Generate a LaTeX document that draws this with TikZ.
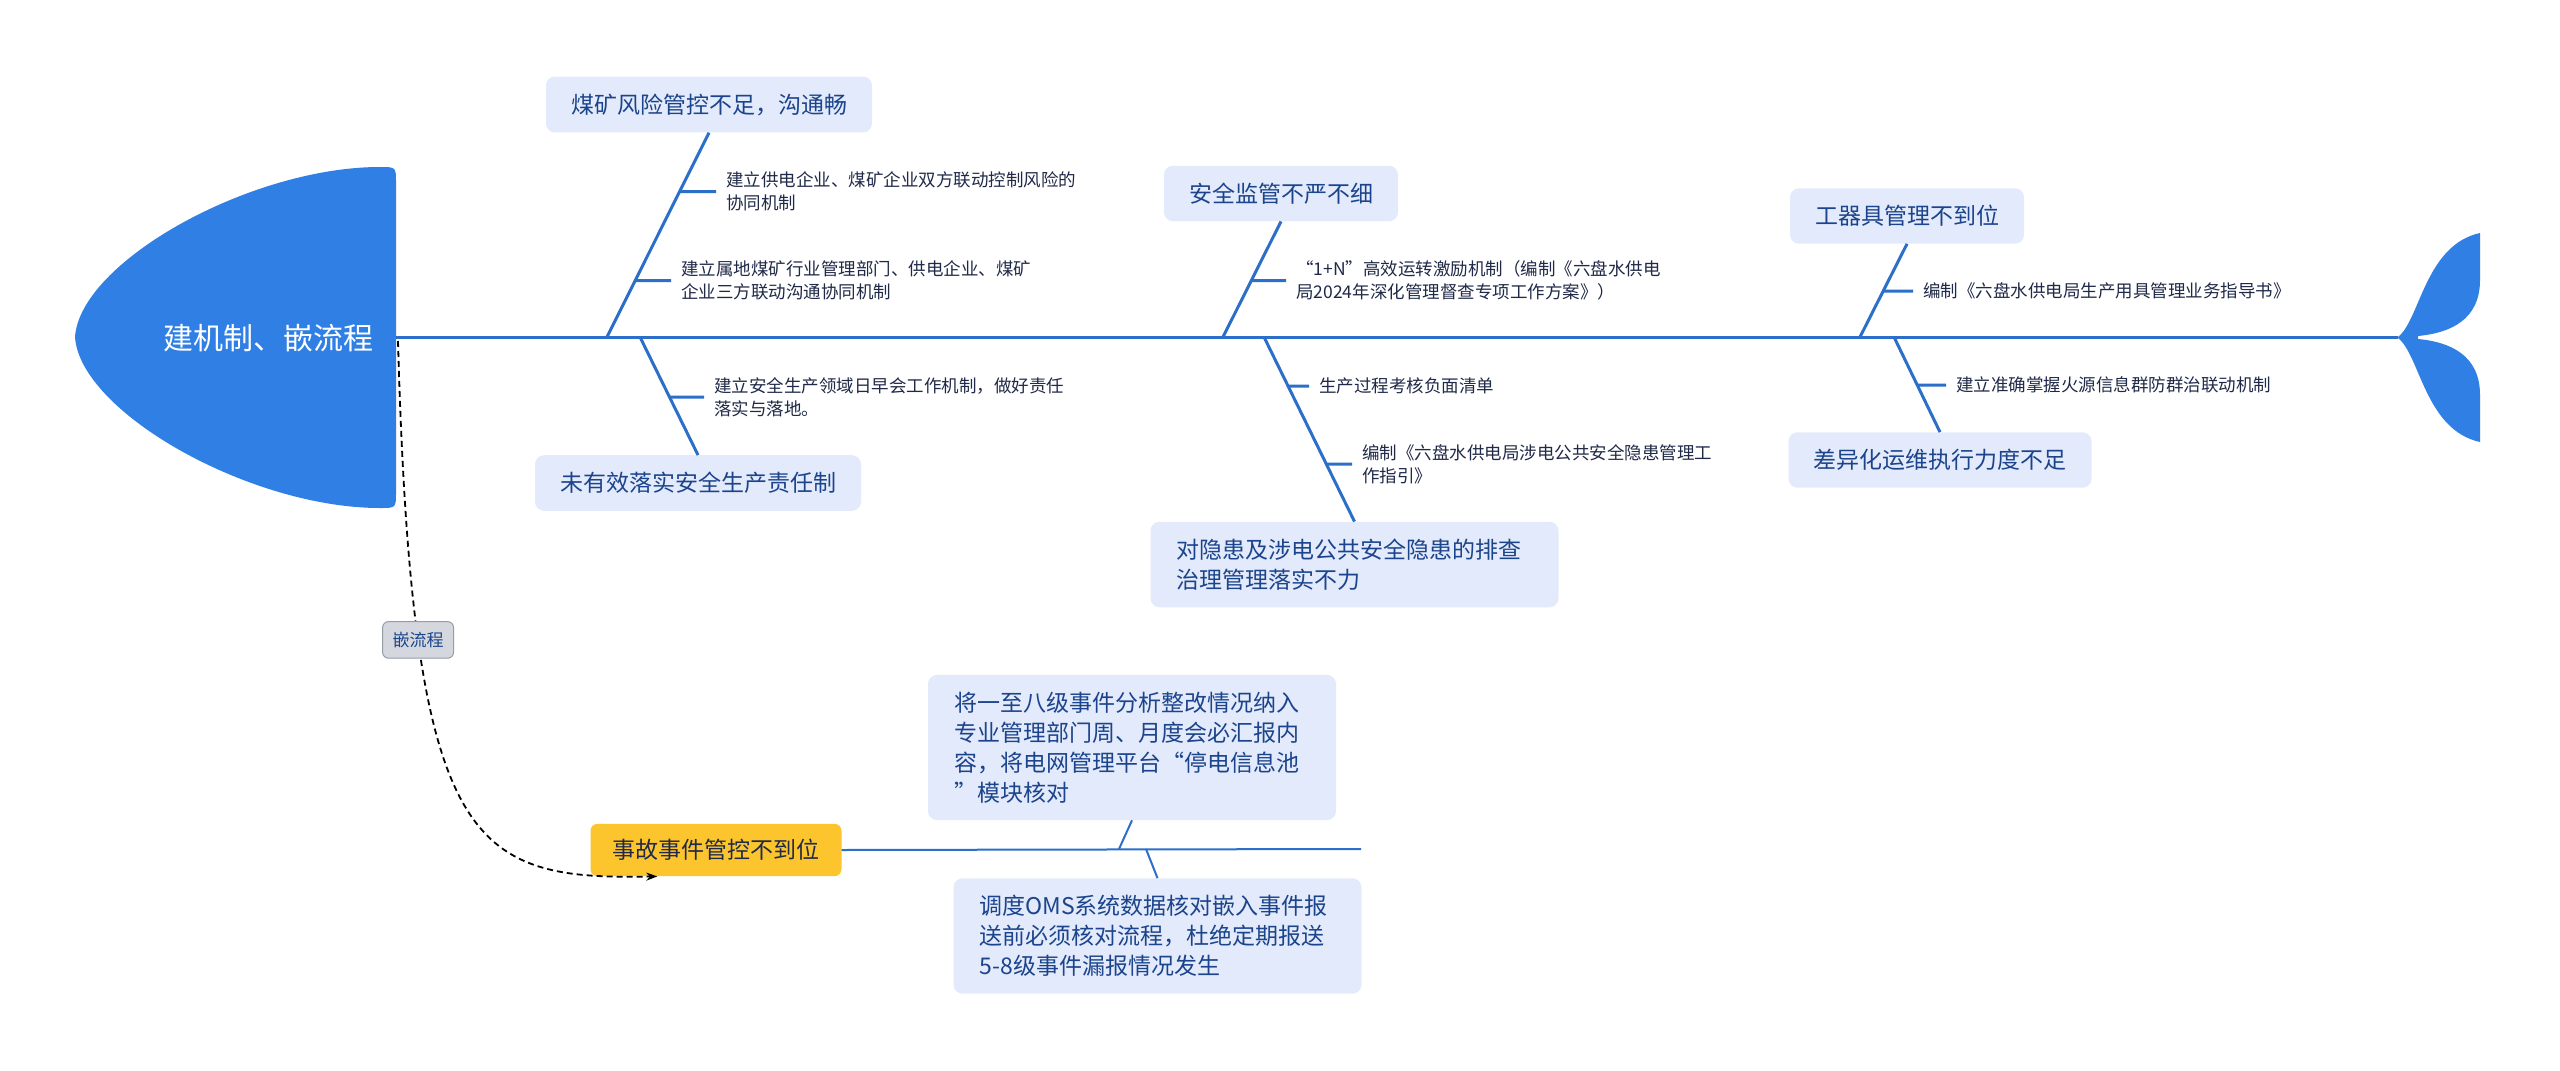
\documentclass[tikz,border=0pt]{standalone}
\usepackage{fontspec}
\setmainfont{Noto Sans CJK SC}
\usetikzlibrary{arrows.meta, calc, positioning}

\definecolor{headblue}{RGB}{47,127,228}
\definecolor{boneblue}{RGB}{43,111,200}
\definecolor{boxfill}{RGB}{226,234,251}
\definecolor{boxtext}{RGB}{28,68,140}
\definecolor{itemtext}{RGB}{32,42,72}
\definecolor{accfill}{RGB}{253,197,45}
\definecolor{tagfill}{RGB}{212,215,222}
\definecolor{tagdraw}{RGB}{150,156,168}

\begin{document}
\begin{tikzpicture}[
      x=1pt, y=-1pt,
      bone/.style={line width=3pt, boneblue},
      twig/.style={line width=2pt, boneblue},
      cause/.style={fill=boxfill, rounded corners=9pt, text=boxtext,
        font=\fontsize{23}{30}\selectfont, inner xsep=25pt, inner ysep=17pt},
      widecause/.style={cause, text width=356pt, align=left, inner xsep=26pt},
      item/.style={anchor=west, text=itemtext, align=left, inner xsep=10pt,
        font=\fontsize{17.5}{23}\selectfont},
      flow/.style={line width=1.8pt, dash pattern=on 6pt off 4pt, -{Stealth[length=11pt,width=8pt]}},
      tag/.style={solid, fill=tagfill, draw=tagdraw, line width=1pt, rounded corners=6pt,
        text=boxtext, font=\fontsize{17}{20}\selectfont, inner xsep=10pt, inner ysep=10.5pt}
    ]
    \fill[white] (0,0) rectangle (2560,1071);
    \useasboundingbox (0,0) rectangle (2560,1071);

    % Kopf und Schwanz
    \fill[headblue] (75,337) .. controls (80,262) and (250,167) .. (380,167)
      .. controls (396,167) .. (396,183) -- (396,492)
      .. controls (396,508) .. (380,508) .. controls (250,508) and (80,412) .. cycle;
    \node[text=white, font=\fontsize{30}{36}\selectfont] (head) at (268,338) {建机制、嵌流程};
    \fill[headblue] (2398,337) .. controls (2420,320) and (2425,245) .. (2480,233)
      -- (2480,280) .. controls (2480,320) and (2450,333) .. (2418,336)
      -- (2418,339) .. controls (2450,342) and (2480,355) .. (2480,395)
      -- (2480,442) .. controls (2425,430) and (2420,355) .. (2398,338) -- cycle;

    % Hauptgraete
    \coordinate (spineL) at (396,337);
    \coordinate (spineR) at (2398,337);
    \draw[bone] (spineL) -- (spineR);

    % Ursachen
    \node[cause] (risk) at (709,104.5) {煤矿风险管控不足，沟通畅};
    \node[cause] (duty) at (698,483) {未有效落实安全生产责任制};
    \node[cause] (super) at (1281,193.5) {安全监管不严不细};
    \node[widecause] (hidden) at (1354.5,564.5) {对隐患及涉电公共安全隐患的排查\\治理管理落实不力};
    \node[cause] (tool) at (1907,216) {工器具管理不到位};
    \node[cause] (diff) at (1940,460) {差异化运维执行力度不足};

    \coordinate (b1) at (607,337);
    \coordinate (b2) at (640,337);
    \coordinate (b3) at (1223,337);
    \coordinate (b4) at (1264,337);
    \coordinate (b5) at (1860,337);
    \coordinate (b6) at (1894,337);
    \draw[bone] (b1) -- (risk.south);
    \draw[bone] (b2) -- (duty.north);
    \draw[bone] (b3) -- (super.south);
    \draw[bone] (b4) -- (hidden.north);
    \draw[bone] (b5) -- (tool.south);
    \draw[bone] (b6) -- (diff.north);

    % Massnahmen
    \node[item] (t1) at (716,191.5) {建立供电企业、煤矿企业双方联动控制风险的\\协同机制};
    \node[item] (t2) at (671,280.5) {建立属地煤矿行业管理部门、供电企业、煤矿\\企业三方联动沟通协同机制};
    \node[item] (t3) at (704,397) {建立安全生产领域日早会工作机制，做好责任\\落实与落地。};
    \node[item] (t4) at (1286,280.5) {“1+N”高效运转激励机制（编制《六盘水供电\\局2024年深化管理督查专项工作方案》）};
    \node[item] (t5) at (1309,386) {生产过程考核负面清单};
    \node[item] (t6) at (1352,464) {编制《六盘水供电局涉电公共安全隐患管理工\\作指引》};
    \node[item] (t7) at (1913,291) {编制《六盘水供电局生产用具管理业务指导书》};
    \node[item] (t8) at (1946,385) {建立准确掌握火源信息群防群治联动机制};

    \draw[bone] (intersection of b1--risk.south and t1.west--t1.east) -- (t1.west);
    \draw[bone] (intersection of b1--risk.south and t2.west--t2.east) -- (t2.west);
    \draw[bone] (intersection of b2--duty.north and t3.west--t3.east) -- (t3.west);
    \draw[bone] (intersection of b3--super.south and t4.west--t4.east) -- (t4.west);
    \draw[bone] (intersection of b4--hidden.north and t5.west--t5.east) -- (t5.west);
    \draw[bone] (intersection of b4--hidden.north and t6.west--t6.east) -- (t6.west);
    \draw[bone] (intersection of b5--tool.south and t7.west--t7.east) -- (t7.west);
    \draw[bone] (intersection of b6--diff.north and t8.west--t8.east) -- (t8.west);

    % eingebetteter Ablauf
    \node[fill=accfill, rounded corners=7pt, text=itemtext, font=\fontsize{23}{30}\selectfont,
      inner xsep=22pt, inner ysep=15.5pt] (acc) at (716,850) {事故事件管控不到位};
    \node[widecause] (ev1) at (1132,747.5) {将一至八级事件分析整改情况纳入\\专业管理部门周、月度会必汇报内\\容，将电网管理平台“停电信息池\\”模块核对};
    \node[widecause] (ev2) at (1157.5,936) {调度OMS系统数据核对嵌入事件报\\送前必须核对流程，杜绝定期报送\\5-8级事件漏报情况发生};
    \coordinate (accEnd) at (1361,849);
    \coordinate (e1) at (1119,849);
    \coordinate (e2) at (1146,849);
    \draw[twig] (acc.east) -- (accEnd);
    \draw[twig] (e1) -- (ev1.south);
    \draw[twig] (e2) -- (ev2.north);

    \coordinate (dstart) at (398,341);
    \draw[flow] (dstart) .. controls (412,850) and (470,880) .. ([xshift=67pt]acc.south west)
      node[tag, pos=0.25] (lbl) {嵌流程};
  \end{tikzpicture}
\end{document}
